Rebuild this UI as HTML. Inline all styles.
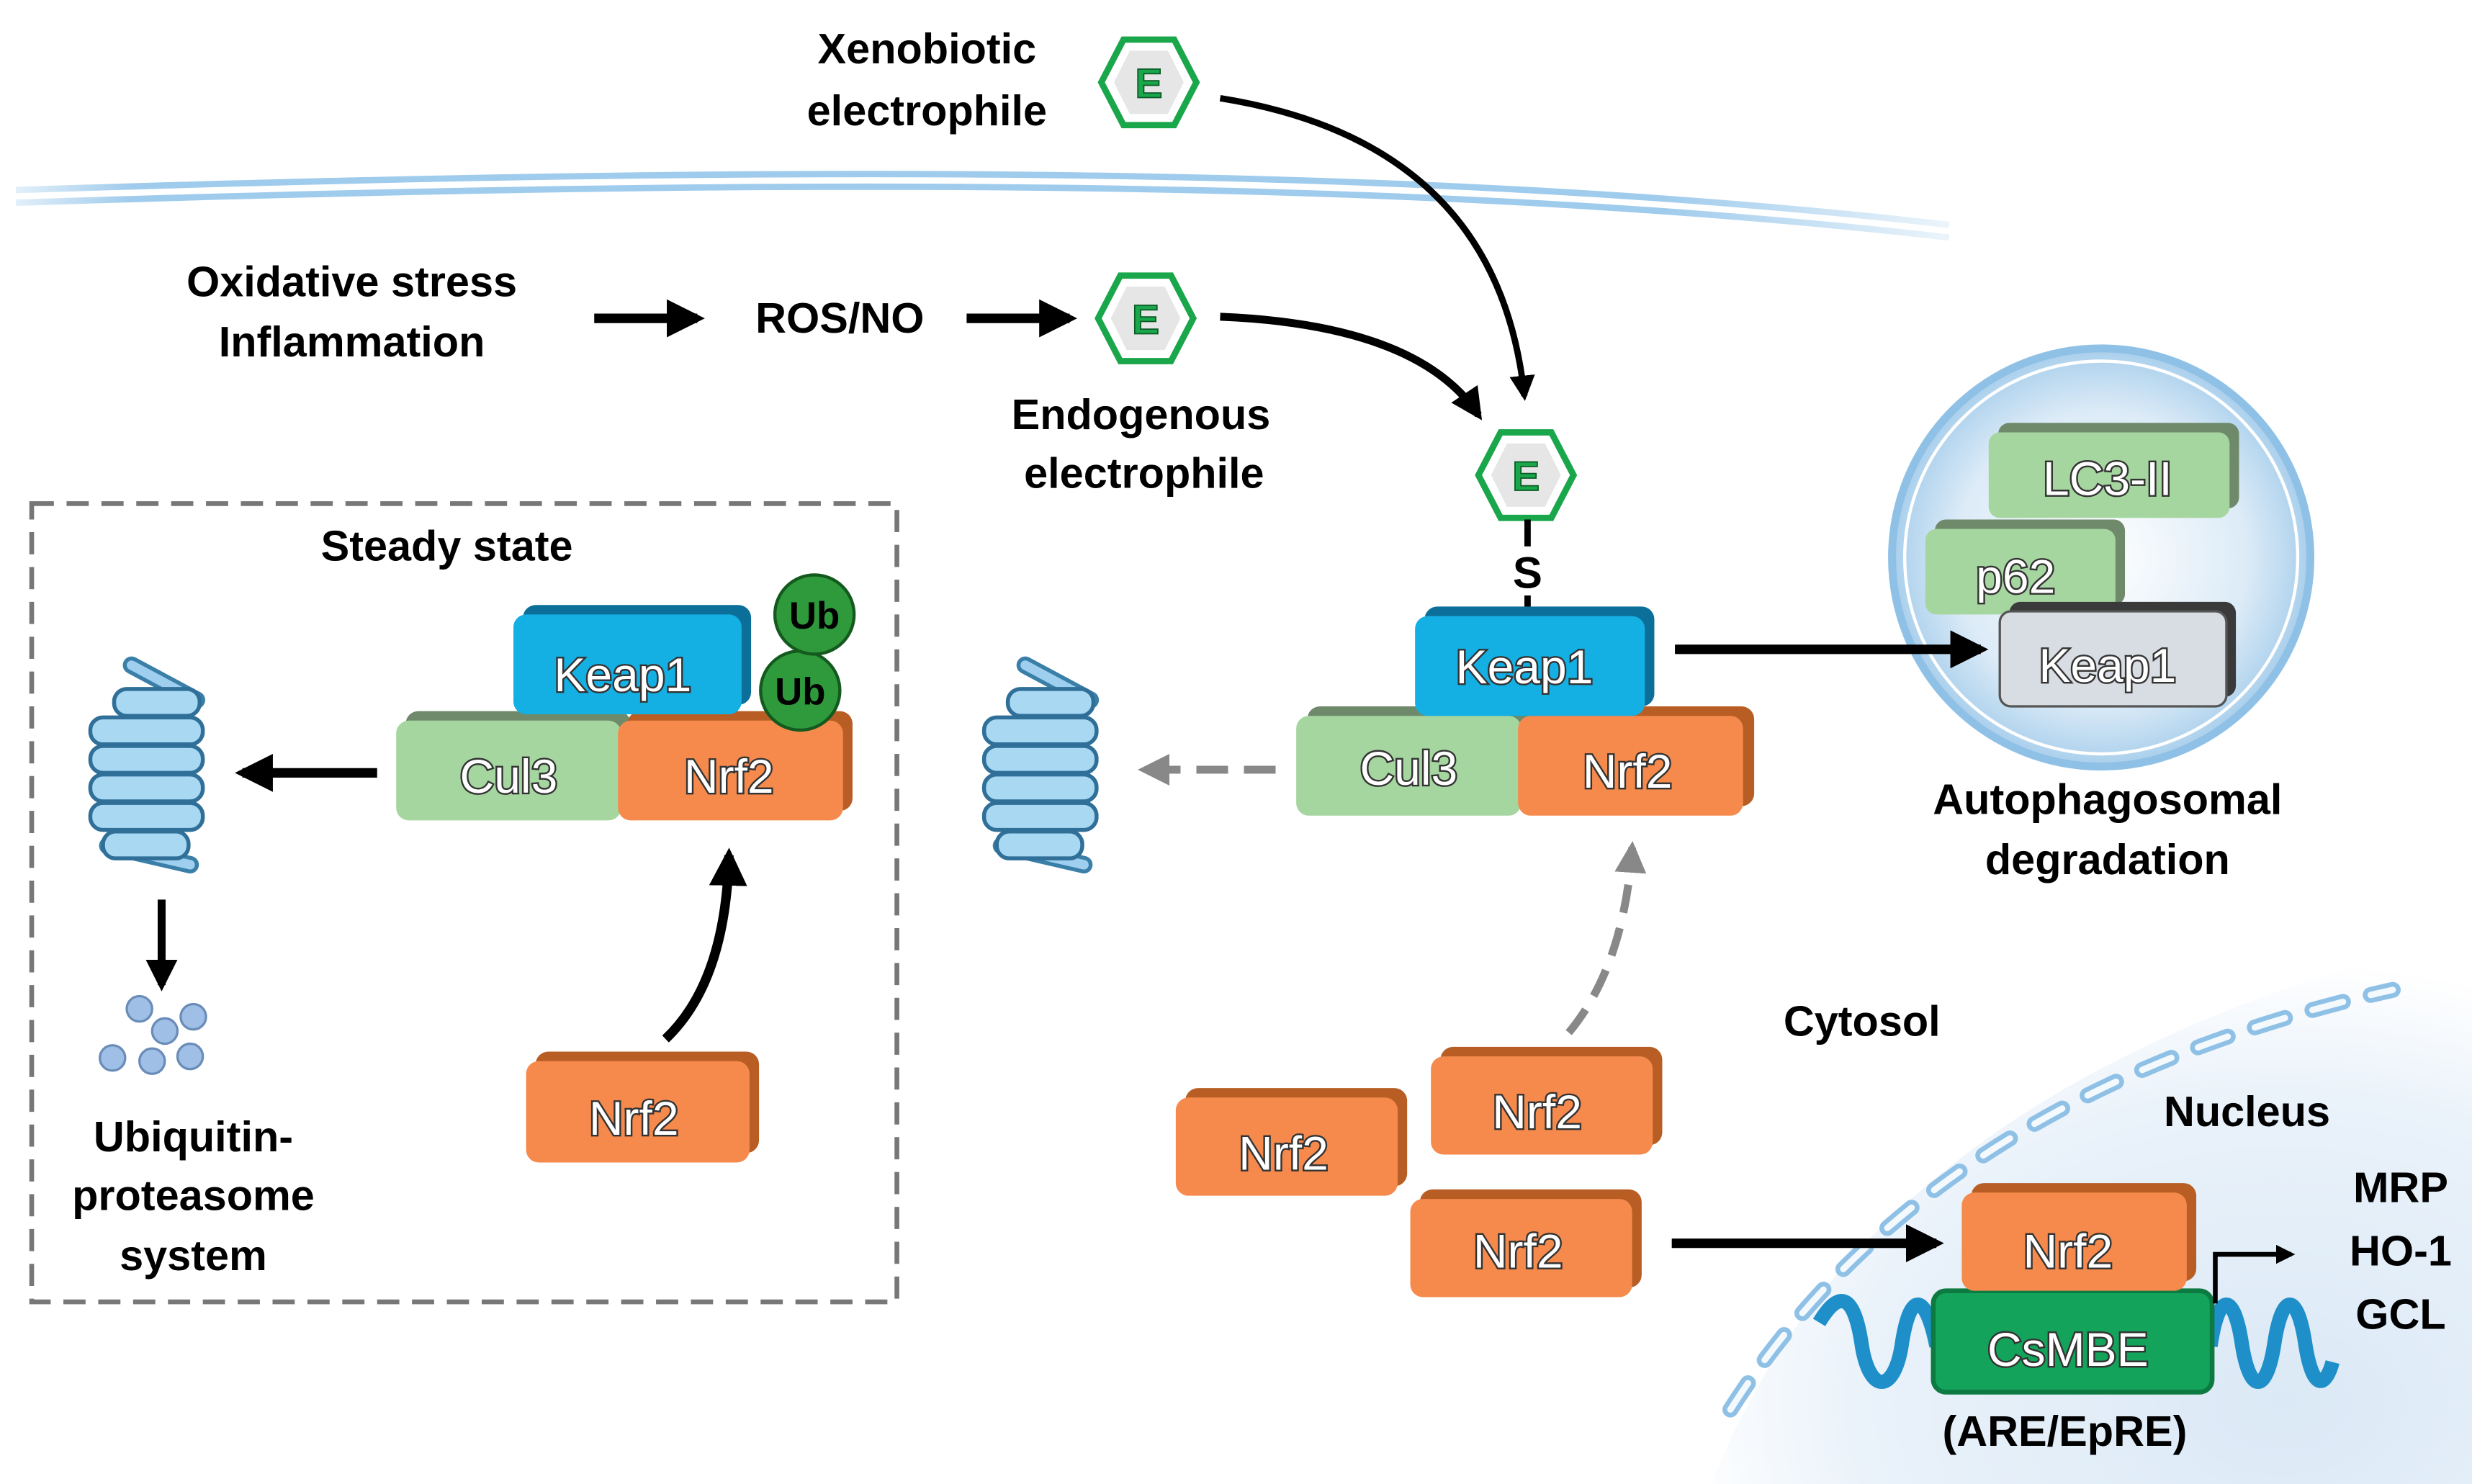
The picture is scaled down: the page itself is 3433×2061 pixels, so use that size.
<!DOCTYPE html>
<html><head><meta charset="utf-8">
<style>
html,body{margin:0;padding:0;background:#fff;}
svg{display:block;}
text{font-family:"Liberation Sans",sans-serif;}
.lb{font-weight:bold;font-size:27px;fill:#000;text-anchor:middle;}
.bt{font-size:30px;fill:#fff;stroke:#333;stroke-width:2.2px;paint-order:stroke;text-anchor:middle;dominant-baseline:central;}
</style></head><body>
<svg width="3433" height="2061" viewBox="0 0 1560 937" preserveAspectRatio="none" xmlns="http://www.w3.org/2000/svg">
<defs>
<marker id="ah" viewBox="0 0 10 10" refX="8" refY="5" markerWidth="4" markerHeight="4" orient="auto-start-reverse"><path d="M0,0L10,5L0,10z" fill="#000"/></marker>
<marker id="ahg" viewBox="0 0 10 10" refX="8" refY="5" markerWidth="4" markerHeight="4" orient="auto"><path d="M0,0L10,5L0,10z" fill="#888"/></marker>
<radialGradient id="nuc" cx="0.75" cy="0.85" r="0.8"><stop offset="0" stop-color="#dbe9f6"/><stop offset="0.7" stop-color="#eaf2fa"/><stop offset="1" stop-color="#fff"/></radialGradient>
<radialGradient id="auto" cx="0.5" cy="0.5" r="0.5"><stop offset="0" stop-color="#fff"/><stop offset="0.7" stop-color="#dcebf7"/><stop offset="1" stop-color="#a9cfec"/></radialGradient>
<linearGradient id="mem" x1="0" x2="1" y1="0" y2="0"><stop offset="0" stop-color="#9fcbec" stop-opacity="0.3"/><stop offset="0.06" stop-color="#9fcbec"/><stop offset="0.85" stop-color="#9fcbec"/><stop offset="1" stop-color="#9fcbec" stop-opacity="0.2"/></linearGradient>
<g id="prot">
<line x1="-9" y1="-68" x2="32" y2="-46" stroke="#3a7fa8" stroke-width="11" stroke-linecap="round"/>
<line x1="-9" y1="-68" x2="32" y2="-46" stroke="#9fcfee" stroke-width="6" stroke-linecap="round"/>
<line x1="-24" y1="46" x2="28" y2="58" stroke="#3a7fa8" stroke-width="11" stroke-linecap="round"/>
<line x1="-24" y1="46" x2="28" y2="58" stroke="#9fcfee" stroke-width="6" stroke-linecap="round"/>
<rect x="-20" y="-53" width="54" height="17" rx="8" fill="#a9d8f3" stroke="#2f6f98" stroke-width="2.5"/>
<rect x="-35" y="-35" width="71" height="17" rx="8" fill="#a9d8f3" stroke="#2f6f98" stroke-width="2.5"/>
<rect x="-35" y="-17" width="71" height="17" rx="8" fill="#a9d8f3" stroke="#2f6f98" stroke-width="2.5"/>
<rect x="-35" y="1" width="71" height="17" rx="8" fill="#a9d8f3" stroke="#2f6f98" stroke-width="2.5"/>
<rect x="-35" y="19" width="71" height="17" rx="8" fill="#a9d8f3" stroke="#2f6f98" stroke-width="2.5"/>
<rect x="-27" y="37" width="54" height="17" rx="8" fill="#a9d8f3" stroke="#2f6f98" stroke-width="2.5"/>
</g>
<g id="hex">
<polygon points="-30,0 -16,-27 16,-27 30,0 16,27 -16,27" fill="#fff" stroke="#1aa64a" stroke-width="4"/>
<polygon points="-22,0 -12,-20 12,-20 22,0 12,20 -12,20" fill="#e6e6e6"/>
<text x="0" y="1" font-size="26" font-weight="bold" fill="#1aa64a" stroke="#0a5a25" stroke-width="0.8" text-anchor="middle" dominant-baseline="central">E</text>
</g>
</defs>

<!-- membrane -->
<path d="M10,128 C500,112 900,112 1230,150" fill="none" stroke="url(#mem)" stroke-width="4"/>
<path d="M10,120 C500,104 900,104 1230,142" fill="none" stroke="url(#mem)" stroke-width="4"/>

<!-- nucleus -->
<path d="M1080,937 Q1180,680 1560,590 L1560,937 Z" fill="url(#nuc)"/>
<path d="M1092,890 Q1220,690 1510,625" fill="none" stroke="#8fc1e6" stroke-width="10" stroke-dasharray="20,18" stroke-linecap="round"/>
<path d="M1092,890 Q1220,690 1510,625" fill="none" stroke="#f4f9fd" stroke-width="4" stroke-dasharray="20,18" stroke-linecap="round"/>

<!-- top texts -->
<text class="lb" x="585" y="40">Xenobiotic</text>
<text class="lb" x="585" y="79">electrophile</text>
<use href="#hex" x="725" y="52"/>
<text class="lb" x="222" y="187">Oxidative stress</text>
<text class="lb" x="222" y="225">Inflammation</text>
<line x1="375" y1="201" x2="440" y2="201" stroke="#000" stroke-width="6" marker-end="url(#ah)"/>
<text class="lb" x="530" y="210">ROS/NO</text>
<line x1="610" y1="201" x2="675" y2="201" stroke="#000" stroke-width="6" marker-end="url(#ah)"/>
<use href="#hex" x="723" y="201"/>
<text class="lb" x="720" y="271">Endogenous</text>
<text class="lb" x="722" y="308">electrophile</text>
<path d="M770,200 Q895,205 933,262" fill="none" stroke="#000" stroke-width="5" marker-end="url(#ah)"/>
<path d="M770,62 Q945,90 962,250" fill="none" stroke="#000" stroke-width="4" marker-end="url(#ah)"/>
<use href="#hex" x="963" y="300"/>
<line x1="964" y1="328" x2="964" y2="345" stroke="#000" stroke-width="4"/>
<text x="964" y="362" font-size="28" font-weight="bold" text-anchor="middle" dominant-baseline="central">S</text>
<line x1="964" y1="376" x2="964" y2="390" stroke="#000" stroke-width="4"/>

<!-- central complex -->
<g>
<rect x="825" y="446" width="142" height="63" rx="8" fill="#6e8a6a"/>
<rect x="818" y="452" width="142" height="63" rx="8" fill="#a6d6a0"/>
<text class="bt" x="889" y="485">Cul3</text>
<rect x="965" y="446" width="142" height="63" rx="8" fill="#b85e25"/>
<rect x="958" y="452" width="142" height="63" rx="8" fill="#f58a4c"/>
<text class="bt" x="1027" y="487">Nrf2</text>
<rect x="899" y="383" width="145" height="63" rx="8" fill="#0b6f9a"/>
<rect x="893" y="389" width="145" height="63" rx="8" fill="#14b0e4"/>
<text class="bt" x="962" y="421">Keap1</text>
</g>

<!-- autophagosome -->
<circle cx="1326" cy="352" r="132" fill="url(#auto)" stroke="#8fc1e6" stroke-width="5"/>
<circle cx="1326" cy="352" r="124" fill="none" stroke="#fff" stroke-width="2"/>
<rect x="1261" y="267" width="152" height="54" rx="7" fill="#6e8a6a"/>
<rect x="1255" y="273" width="152" height="54" rx="7" fill="#a6d6a0"/>
<text class="bt" x="1330" y="302">LC3-II</text>
<rect x="1221" y="328" width="120" height="54" rx="7" fill="#6e8a6a"/>
<rect x="1215" y="334" width="120" height="54" rx="7" fill="#a6d6a0"/>
<text class="bt" x="1272" y="364">p62</text>
<rect x="1268" y="380" width="143" height="60" rx="7" fill="#3a3a3a"/>
<rect x="1262" y="386" width="143" height="60" rx="7" fill="#d8dde3" stroke="#555" stroke-width="1.5"/>
<text class="bt" x="1330" y="420">Keap1</text>
<line x1="1057" y1="410" x2="1250" y2="410" stroke="#000" stroke-width="6" marker-end="url(#ah)"/>
<text class="lb" x="1330" y="514">Autophagosomal</text>
<text class="lb" x="1330" y="552">degradation</text>

<!-- middle proteasome -->
<use href="#prot" x="656" y="488"/>
<line x1="805" y1="486" x2="722" y2="486" stroke="#888" stroke-width="5" stroke-dasharray="20,10" marker-end="url(#ahg)"/>
<path d="M990,652 Q1025,610 1030,535" fill="none" stroke="#888" stroke-width="5" stroke-dasharray="18,10" marker-end="url(#ahg)"/>

<text class="lb" x="1175" y="654" font-size="30">Cytosol</text>
<text class="lb" x="1418" y="711" font-size="30">Nucleus</text>

<!-- free Nrf2 -->
<rect x="748" y="687" width="140" height="62" rx="8" fill="#b85e25"/>
<rect x="742" y="693" width="140" height="62" rx="8" fill="#f58a4c"/>
<text class="bt" x="810" y="728">Nrf2</text>
<rect x="909" y="661" width="140" height="62" rx="8" fill="#b85e25"/>
<rect x="903" y="667" width="140" height="62" rx="8" fill="#f58a4c"/>
<text class="bt" x="970" y="702">Nrf2</text>
<rect x="896" y="751" width="140" height="62" rx="8" fill="#b85e25"/>
<rect x="890" y="757" width="140" height="62" rx="8" fill="#f58a4c"/>
<text class="bt" x="958" y="790">Nrf2</text>
<line x1="1055" y1="785" x2="1222" y2="785" stroke="#000" stroke-width="6" marker-end="url(#ah)"/>

<!-- DNA + nucleus complex -->
<path d="M1148,835 C1160,815 1170,815 1175,850 C1180,880 1195,880 1200,850 C1205,815 1215,815 1222,850" fill="none" stroke="#1e8fc9" stroke-width="9"/>
<path d="M1395,850 C1400,815 1410,815 1415,850 C1420,880 1430,880 1435,850 C1440,815 1450,815 1455,850 C1460,880 1468,875 1472,860" fill="none" stroke="#1e8fc9" stroke-width="9"/>
<rect x="1220" y="815" width="176" height="64" rx="8" fill="#13a35a" stroke="#0d7a41" stroke-width="3"/>
<text class="bt" x="1305" y="852">CsMBE</text>
<rect x="1244" y="747" width="142" height="62" rx="8" fill="#b85e25"/>
<rect x="1238" y="753" width="142" height="62" rx="8" fill="#f58a4c"/>
<text class="bt" x="1305" y="790">Nrf2</text>
<path d="M1398,823 L1398,792 L1446,792" fill="none" stroke="#000" stroke-width="3" marker-end="url(#ah)"/>
<text class="lb" x="1303" y="913">(ARE/EpRE)</text>
<text class="lb" x="1515" y="759">MRP</text>
<text class="lb" x="1515" y="799">HO-1</text>
<text class="lb" x="1515" y="839">GCL</text>

<!-- steady state box -->
<rect x="20" y="318" width="546" height="504" fill="none" stroke="#777" stroke-width="3" stroke-dasharray="14,8"/>
<text class="lb" x="282" y="354">Steady state</text>
<rect x="256" y="449" width="142" height="63" rx="8" fill="#6e8a6a"/>
<rect x="250" y="455" width="142" height="63" rx="8" fill="#a6d6a0"/>
<text class="bt" x="321" y="490">Cul3</text>
<rect x="396" y="449" width="142" height="63" rx="8" fill="#b85e25"/>
<rect x="390" y="455" width="142" height="63" rx="8" fill="#f58a4c"/>
<text class="bt" x="460" y="490">Nrf2</text>
<rect x="330" y="382" width="144" height="63" rx="8" fill="#0b6f9a"/>
<rect x="324" y="388" width="144" height="63" rx="8" fill="#14b0e4"/>
<text class="bt" x="393" y="426">Keap1</text>
<circle cx="505" cy="436" r="25" fill="#2f9a3c" stroke="#145a1e" stroke-width="2"/>
<text x="505" y="437" font-size="24" font-weight="bold" text-anchor="middle" dominant-baseline="central">Ub</text>
<circle cx="514" cy="388" r="25" fill="#2f9a3c" stroke="#145a1e" stroke-width="2"/>
<text x="514" y="389" font-size="24" font-weight="bold" text-anchor="middle" dominant-baseline="central">Ub</text>
<line x1="238" y1="488" x2="153" y2="488" stroke="#000" stroke-width="6" marker-end="url(#ah)"/>
<use href="#prot" x="92" y="488"/>
<line x1="102" y1="568" x2="102" y2="622" stroke="#000" stroke-width="5" marker-end="url(#ah)"/>
<g fill="#9fbfe6" stroke="#6a8cb8" stroke-width="1.5">
<circle cx="88" cy="637" r="8"/><circle cx="122" cy="642" r="8"/><circle cx="104" cy="651" r="8"/>
<circle cx="71" cy="668" r="8"/><circle cx="96" cy="670" r="8"/><circle cx="120" cy="667" r="8"/>
</g>
<text class="lb" x="122" y="727">Ubiquitin-</text>
<text class="lb" x="122" y="764">proteasome</text>
<text class="lb" x="122" y="802">system</text>
<rect x="338" y="664" width="141" height="64" rx="8" fill="#b85e25"/>
<rect x="332" y="670" width="141" height="64" rx="8" fill="#f58a4c"/>
<text class="bt" x="400" y="706">Nrf2</text>
<path d="M420,656 Q458,620 460,540" fill="none" stroke="#000" stroke-width="6" marker-end="url(#ah)"/>
</svg>
</body></html>
